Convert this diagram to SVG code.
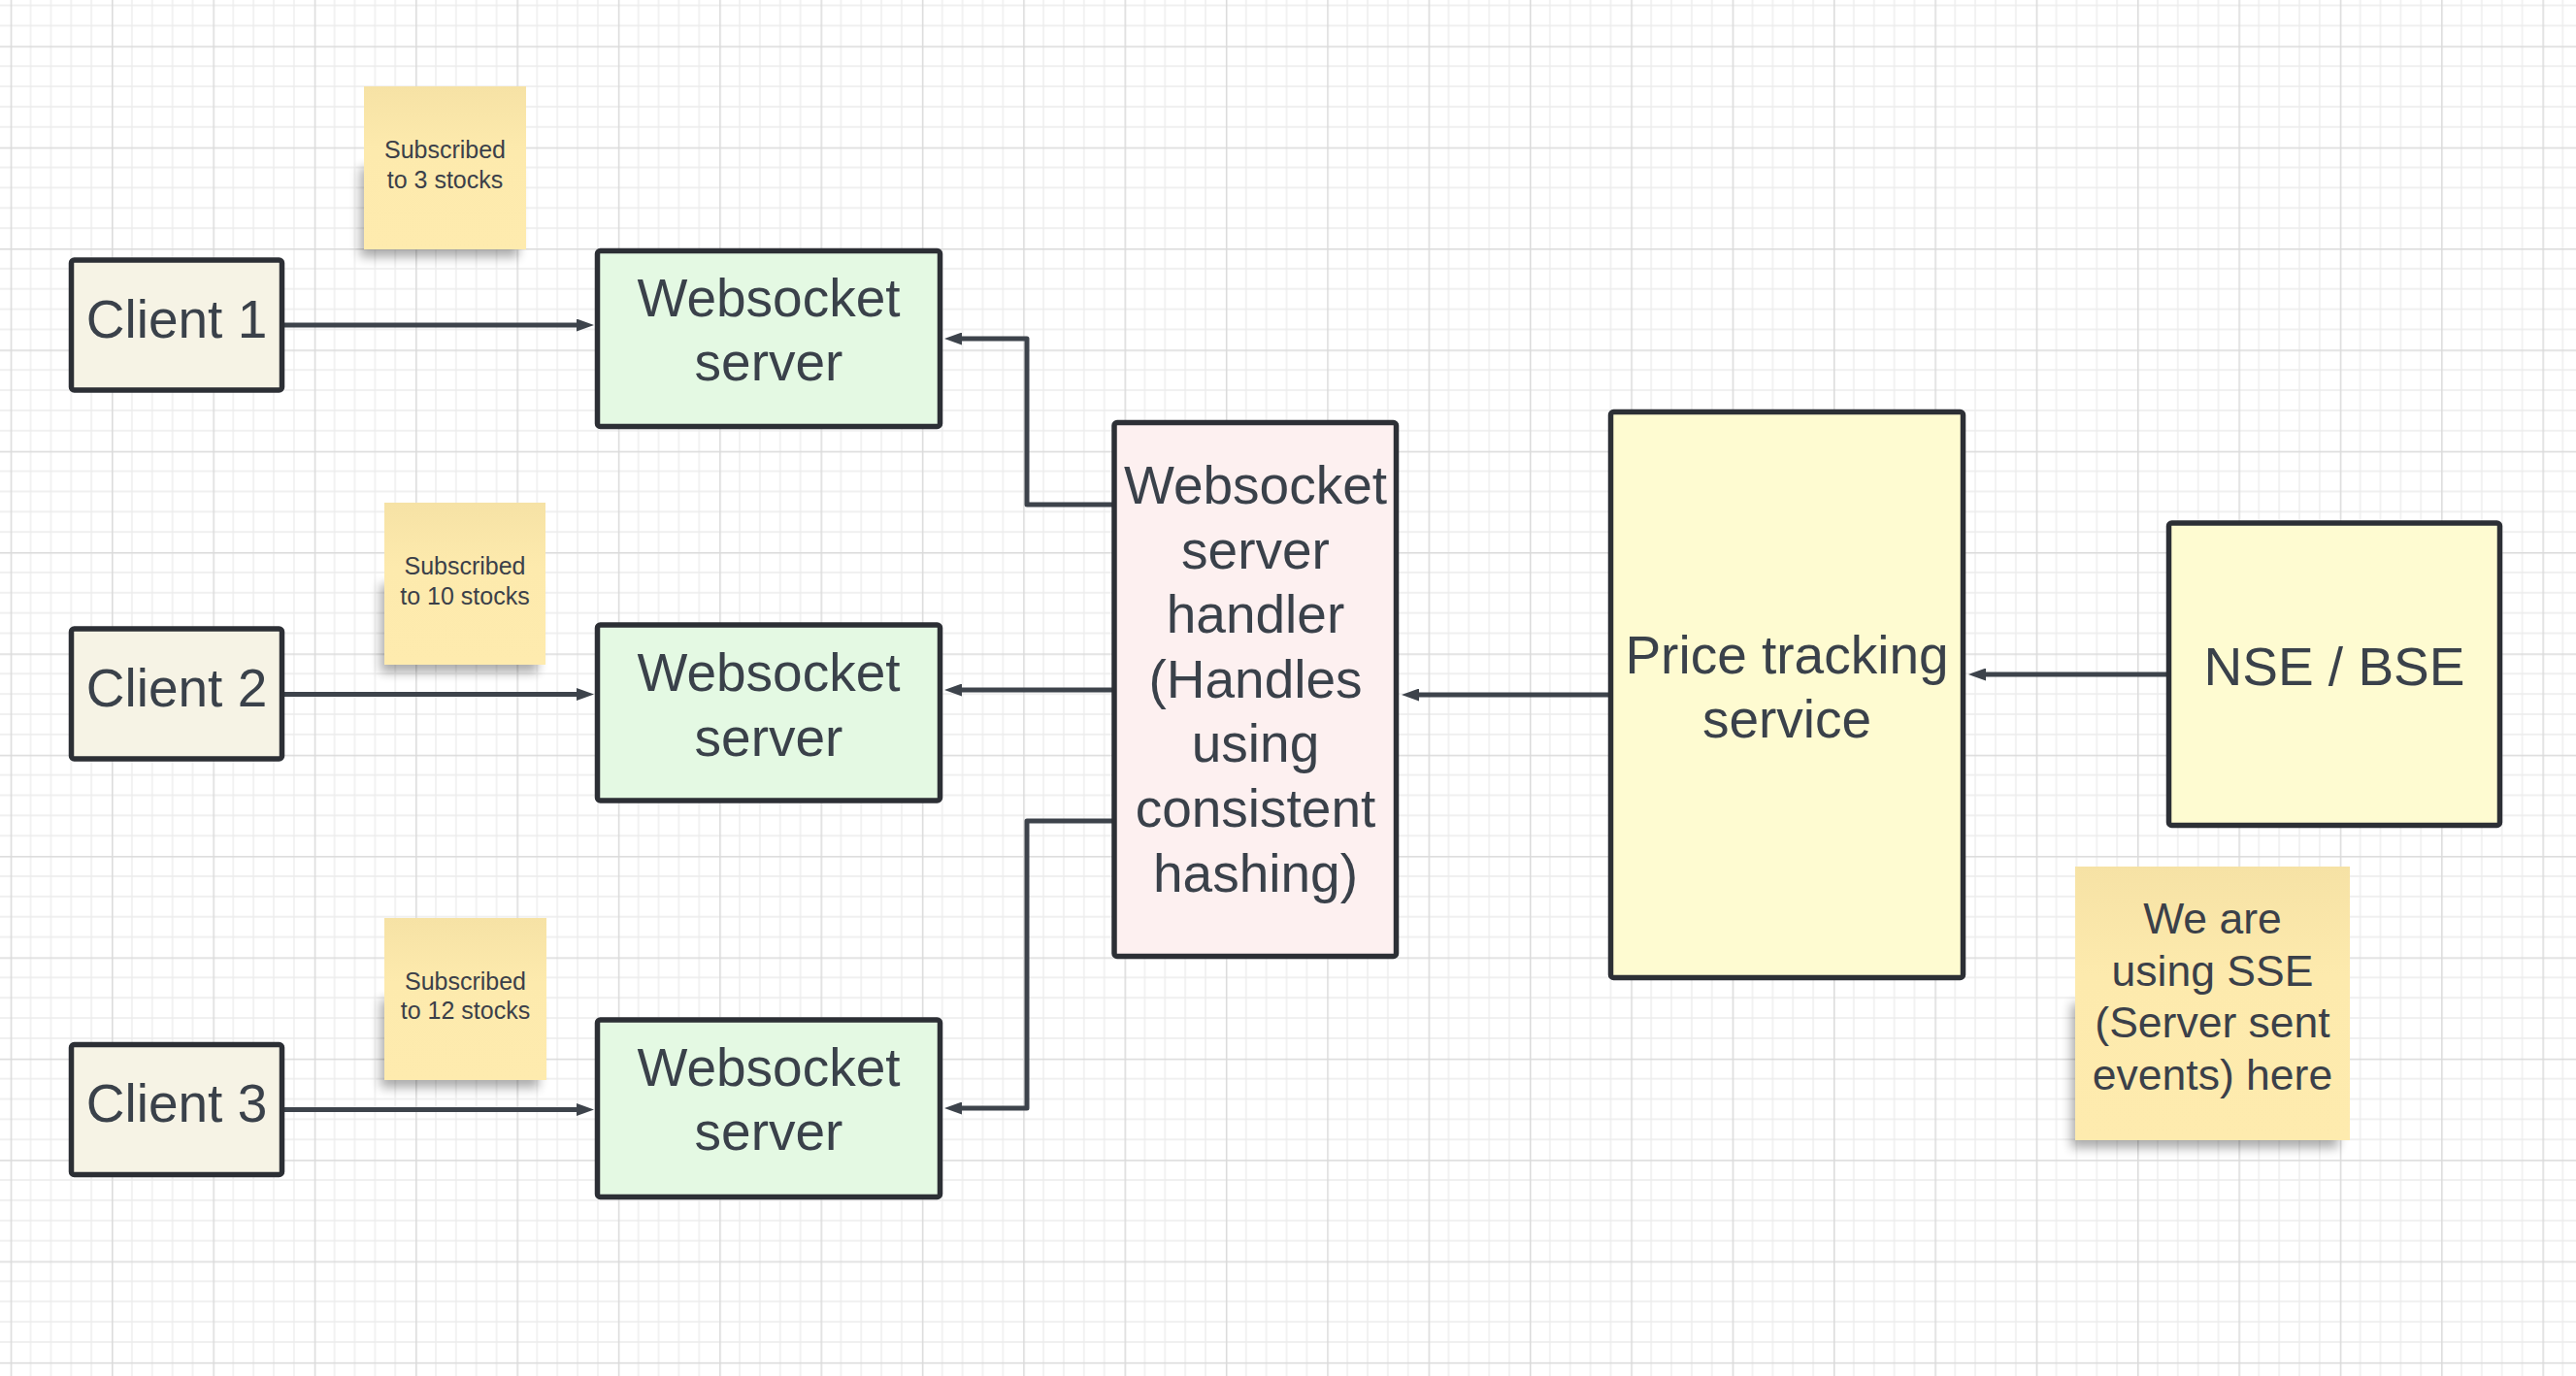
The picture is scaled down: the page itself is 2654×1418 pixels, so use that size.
<svg xmlns="http://www.w3.org/2000/svg" width="2654" height="1418" viewBox="0 0 2654 1418">
<defs>
<style>
.box{stroke:#2c2f35;stroke-width:5.5;stroke-linejoin:round}
.client{fill:#F6F3E5}
.ws{fill:#E4F9E3}
.handler{fill:#FDF0F0}
.yellow{fill:#FEFBD1}
.t{font-family:"Liberation Sans",Arial,sans-serif;font-size:55px;fill:#3a414a;text-anchor:middle}
.st{font-family:"Liberation Sans",Arial,sans-serif;font-size:25px;fill:#3b4049;text-anchor:middle}
.st2{font-family:"Liberation Sans",Arial,sans-serif;font-size:44.5px;fill:#3b4049;text-anchor:middle}
.conn{fill:none;stroke:#3d434b;stroke-width:5;stroke-linejoin:round}
.shadow{fill:#000;opacity:0.32;filter:url(#blur)}
.note{fill:url(#noteGrad)}
</style>
<pattern id="grid" x="10.7" y="47.3" width="104.35" height="104.35" patternUnits="userSpaceOnUse">
<path d="M20.87,0V104.35M41.74,0V104.35M62.61,0V104.35M83.48,0V104.35M0,20.87H104.35M0,41.74H104.35M0,62.61H104.35M0,83.48H104.35" stroke="#ececec" stroke-width="1.3" fill="none"/>
<path d="M0.75,0V104.35M0,0.75H104.35" stroke="#dadada" stroke-width="1.5" fill="none"/>
</pattern>
<linearGradient id="noteGrad" x1="0" y1="0" x2="0" y2="1">
<stop offset="0" stop-color="#F6E2A5"/>
<stop offset="0.4" stop-color="#FDEAAD"/>
<stop offset="1" stop-color="#FEEBAE"/>
</linearGradient>
<filter id="blur" x="-20%" y="-30%" width="140%" height="160%">
<feGaussianBlur stdDeviation="5.5"/>
</filter>
<marker id="arrow" markerUnits="userSpaceOnUse" markerWidth="18" markerHeight="13" refX="1" refY="6.5" orient="auto">
<path d="M0,0L18,6.5L0,13z" fill="#3d434b"/>
</marker>
</defs>
<rect x="0" y="0" width="2654" height="1418" fill="#ffffff"/>
<rect x="0" y="0" width="2654" height="1418" fill="url(#grid)"/>

<g id="connectors">
<path class="conn" d="M293,335H595" marker-end="url(#arrow)"/>
<path class="conn" d="M293,715.5H595" marker-end="url(#arrow)"/>
<path class="conn" d="M293,1143.5H595" marker-end="url(#arrow)"/>
<path class="conn" d="M1146,520H1058V349H990" marker-end="url(#arrow)"/>
<path class="conn" d="M1146,711H990" marker-end="url(#arrow)"/>
<path class="conn" d="M1146,846H1058V1142H990" marker-end="url(#arrow)"/>
<path class="conn" d="M1657,716H1461" marker-end="url(#arrow)"/>
<path class="conn" d="M2232,695H2045" marker-end="url(#arrow)"/>
</g>

<g id="client1">
<rect class="box client" x="73.5" y="268" width="217" height="134" rx="3"/>
<text class="t" x="182" y="347.5">Client 1</text>
</g>
<g id="client2">
<rect class="box client" x="73.5" y="648" width="217" height="134" rx="3"/>
<text class="t" x="182" y="727.5">Client 2</text>
</g>
<g id="client3">
<rect class="box client" x="73.5" y="1076.5" width="217" height="134" rx="3"/>
<text class="t" x="182" y="1156">Client 3</text>
</g>

<g id="ws1">
<rect class="box ws" x="615.5" y="258.5" width="353" height="181" rx="3"/>
<text class="t" x="792" y="326">Websocket</text>
<text class="t" x="792" y="392">server</text>
</g>
<g id="ws2">
<rect class="box ws" x="615.5" y="644" width="353" height="181" rx="3"/>
<text class="t" x="792" y="712">Websocket</text>
<text class="t" x="792" y="778.5">server</text>
</g>
<g id="ws3">
<rect class="box ws" x="615.5" y="1051" width="353" height="182.5" rx="3"/>
<text class="t" x="792" y="1118.5">Websocket</text>
<text class="t" x="792" y="1185">server</text>
</g>

<g id="handler">
<rect class="box handler" x="1148" y="435.5" width="290.5" height="550" rx="3"/>
<text class="t" x="1293.5" y="519">Websocket</text>
<text class="t" x="1293.5" y="585.6">server</text>
<text class="t" x="1293.5" y="652.2">handler</text>
<text class="t" x="1293.5" y="718.8">(Handles</text>
<text class="t" x="1293.5" y="785.4">using</text>
<text class="t" x="1293.5" y="852">consistent</text>
<text class="t" x="1293.5" y="918.6">hashing)</text>
</g>

<g id="price">
<rect class="box yellow" x="1659.5" y="424.5" width="363" height="583" rx="3"/>
<text class="t" x="1841" y="694">Price tracking</text>
<text class="t" x="1841" y="760">service</text>
</g>

<g id="nse">
<rect class="box yellow" x="2234.5" y="539" width="341" height="311.5" rx="3"/>
<text class="t" x="2405" y="706">NSE / BSE</text>
</g>

<g id="note1">
<rect class="shadow" x="371" y="173" width="163" height="92"/>
<rect class="note" x="375" y="89" width="167" height="168"/>
<text class="st" x="458.5" y="163">Subscribed</text>
<text class="st" x="458.5" y="193.5">to 3 stocks</text>
</g>
<g id="note2">
<rect class="shadow" x="392" y="602" width="162" height="91"/>
<rect class="note" x="396" y="518" width="166" height="167"/>
<text class="st" x="479" y="592">Subscribed</text>
<text class="st" x="479" y="622.5">to 10 stocks</text>
</g>
<g id="note3">
<rect class="shadow" x="392" y="1030" width="163" height="91"/>
<rect class="note" x="396" y="946" width="167" height="167"/>
<text class="st" x="479.5" y="1019.5">Subscribed</text>
<text class="st" x="479.5" y="1050">to 12 stocks</text>
</g>
<g id="note4">
<rect class="shadow" x="2134" y="1034" width="275" height="149"/>
<rect class="note" x="2138" y="893" width="283" height="282"/>
<text class="st2" x="2279.5" y="962">We are</text>
<text class="st2" x="2279.5" y="1015.5">using SSE</text>
<text class="st2" x="2279.5" y="1069">(Server sent</text>
<text class="st2" x="2279.5" y="1122.5">events) here</text>
</g>
</svg>
